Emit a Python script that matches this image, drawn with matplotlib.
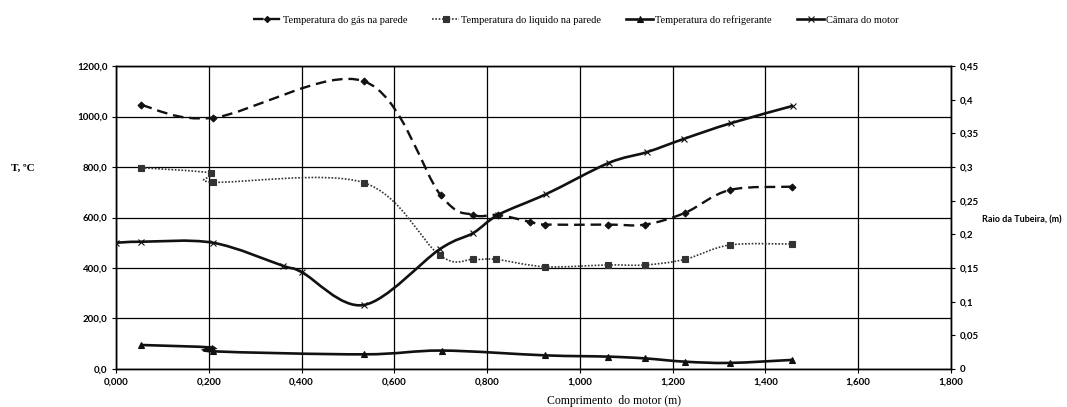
import numpy as np
import matplotlib
matplotlib.use("Agg")
import matplotlib.pyplot as plt
from matplotlib.path import Path
from matplotlib.patches import PathPatch
from matplotlib.lines import Line2D

# data
gas_x = [0.055, 0.209, 0.534, 0.700, 0.770, 0.824, 0.892, 0.925, 1.060, 1.140, 1.226, 1.323, 1.458]
gas_t = [1045, 995, 1140, 688, 610, 610, 583, 572, 572, 572, 618, 709, 722]

liq_x = [0.055, 0.205, 0.209, 0.534, 0.698, 0.770, 0.820, 0.925, 1.060, 1.140, 1.226, 1.323, 1.458]
liq_t = [797, 776, 740, 738, 450, 434, 434, 405, 412, 412, 434, 491, 495]

ref_x = [0.055, 0.207, 0.209, 0.534, 0.702, 0.925, 1.060, 1.140, 1.226, 1.323, 1.458]
ref_t = [95, 85, 70, 58, 73, 54, 49, 42, 29, 24, 36]

cam_x = [0.000, 0.055, 0.209, 0.361, 0.400, 0.534, 0.698, 0.770, 0.824, 0.928, 1.062, 1.144, 1.225, 1.325, 1.460]
cam_r = [0.1875, 0.189, 0.1875, 0.153, 0.144, 0.095, 0.178, 0.202, 0.229, 0.260, 0.306, 0.322, 0.342, 0.365, 0.391]

x_ticks = [0.0, 0.2, 0.4, 0.6, 0.8, 1.0, 1.2, 1.4, 1.6, 1.8]
x_labels = ["0,000", "0,200", "0,400", "0,600", "0,800", "1,000", "1,200", "1,400", "1,600", "1,800"]
t_ticks = [0, 200, 400, 600, 800, 1000, 1200]
t_labels = ["0,0", "200,0", "400,0", "600,0", "800,0", "1000,0", "1200,0"]
r_ticks = [0, 0.05, 0.1, 0.15, 0.2, 0.25, 0.3, 0.35, 0.4, 0.45]
r_labels = ["0", "0,05", "0,1", "0,15", "0,2", "0,25", "0,3", "0,35", "0,4", "0,45"]

names = ["Temperatura do gás na parede", "Temperatura do liquido na parede",
         "Temperatura do refrigerante", "Câmara do motor"]


def smooth(x, y):
    # excel style smoothed line (bezier through the points)
    p = np.column_stack([x, y]).astype(float)
    n = len(p)
    verts = [p[0]]
    codes = [Path.MOVETO]
    for i in range(n - 1):
        p0 = p[max(i - 1, 0)]
        p1 = p[i]
        p2 = p[i + 1]
        p3 = p[min(i + 2, n - 1)]
        verts += [p1 + (p2 - p0) / 6, p2 - (p3 - p1) / 6, p2]
        codes += [Path.CURVE4] * 3
    return Path(verts, codes)


tick_font = dict(family="Lato", weight="bold", size=7)

fig = plt.figure(figsize=(10.67, 4.07), dpi=100)
ax = fig.add_axes([0.1087, 0.0934, 0.7826, 0.7444])
ax2 = ax.twinx()

ax.set_xlim(0, 1.8)
ax.set_ylim(0, 1200)
ax2.set_ylim(0, 0.45)

ax.grid(True, color="black", lw=0.9)
ax.set_axisbelow(True)

styles = [
    dict(ls=(0, (4.5, 2.5)), lw=1.7, marker="D", ms=3.5, color="#111111"),
    dict(ls=(0, (1, 1)), lw=1.2, marker="s", ms=5, color="#333333"),
    dict(ls="-", lw=1.9, marker="^", ms=4.5, color="#111111"),
    dict(ls="-", lw=1.9, marker="x", ms=5, color="#111111"),
]

series = [(ax, gas_x, gas_t), (ax, liq_x, liq_t), (ax, ref_x, ref_t), (ax2, cam_x, cam_r)]
for (a, xs, ys), st in zip(series, styles):
    patch = PathPatch(smooth(xs, ys), fill=False, edgecolor=st["color"], lw=st["lw"],
                      linestyle=st["ls"], zorder=3)
    a.add_patch(patch)
    a.plot(xs, ys, ls="none", marker=st["marker"], ms=st["ms"], color=st["color"],
           markeredgewidth=0.8, zorder=4)

ax.set_xticks(x_ticks)
ax.set_xticklabels(x_labels, **tick_font)
ax.set_yticks(t_ticks)
ax.set_yticklabels(t_labels, **tick_font)
ax2.set_yticks(r_ticks)
ax2.set_yticklabels(r_labels, **tick_font)

for a in (ax, ax2):
    a.tick_params(direction="out", length=3, width=0.8, color="black", pad=3)
    for s in a.spines.values():
        s.set_color("black")
        s.set_linewidth(1.0)

ax.set_xlabel("Comprimento  do motor (m)", family="Liberation Serif", size=8.5, labelpad=2)
ax.xaxis.set_label_coords(0.596, -0.085)
ax.set_ylabel("T, ºC", family="Liberation Serif", weight="bold", size=8, rotation=0)
ax.yaxis.set_label_coords(-0.111, 0.647)
ax2.set_ylabel("Raio da Tubeira, (m)", family="Lato", weight="bold", size=6.5, rotation=0)
ax2.yaxis.set_label_coords(1.085, 0.508)

handles = [Line2D([], [], color=st["color"], ls=st["ls"], lw=st["lw"], marker=st["marker"],
                  ms=st["ms"] * 0.9, markeredgewidth=0.8) for st in styles]
fig.legend(handles, names, loc="center", bbox_to_anchor=(0.54, 0.951), ncol=4, frameon=False,
           prop=dict(family="Liberation Serif", size=7.5), handlelength=2.6, handletextpad=0.2,
           columnspacing=2.4)

fig.savefig("out.png", dpi=100)
